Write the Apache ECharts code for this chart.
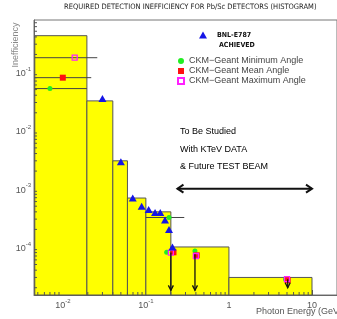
<!DOCTYPE html>
<html>
<head>
<meta charset="utf-8">
<script src="https://cdn.jsdelivr.net/npm/echarts@6/dist/echarts.min.js"></script>
<style>
html,body{margin:0;padding:0;background:#fff}
#echarts{width:337px;height:319px}
</style>
</head>
<body>
<div id="echarts"></div>
<script>
// histogram bins (GeV) and required inefficiency
var binEdges = [0.0046, 0.0195, 0.04, 0.06, 0.1, 0.2, 1, 10];
var binHeights = [0.42, 0.032, 0.003, 0.00069, 0.0004, 0.0001, 0.00003];

// BNL-E787 achieved
var bnlX = [0.030, 0.050, 0.0695, 0.089, 0.108, 0.129, 0.149, 0.170, 0.190, 0.209];
var bnlY = [0.035, 0.0029, 0.00069, 0.0005, 0.00044, 0.00039, 0.00039, 0.00029, 0.0002, 0.0001];

// CKM-Geant
var minX = [0.007, 0.19, 0.178, 0.39, 4.8];
var minY = [0.052, 0.00032, 0.000081, 0.000085, 0.000028];
var meanX = [0.01, 0.215, 0.41, 5.1];
var meanY = [0.08, 0.000081, 0.000072, 0.000027];
var maxX = [0.0139, 0.2, 0.4, 5.0];
var maxY = [0.176, 0.00008, 0.00007, 0.000028];

// horizontal ranges [from, to, level]
var rangeLines = [[0.0046, 0.0195, 0.052], [0.0046, 0.022, 0.08], [0.0046, 0.026, 0.176], [0.1, 0.29, 0.00032]];
// upper limit arrows [x, from, to]
var limitArrows = [[0.2, 0.00008, 0.000018], [0.39, 0.000075, 0.000018], [5.1, 0.000028, 0.00002]];
// double arrow [from, to, level]
var studyArrow = [0.24, 10, 0.001];

var xMin = 0.0045, xMax = 20, yMin = 0.000015, yMax = 0.78;

var myChart = echarts.init(document.getElementById('echarts'));

function pairs(xs, ys) {
  return xs.map(function (x, i) { return [x, ys[i]]; });
}

var bins = [];
for (var i = 0; i < binHeights.length; i++) {
  bins.push([binEdges[i], binEdges[i + 1], binHeights[i]]);
}

// minor ticks at 2..9 x 10^n
var xMinor = [], yMinor = [];
for (var e = -3; e <= 1; e++) {
  for (var k = 2; k <= 9; k++) {
    var v = k * Math.pow(10, e);
    if (v > xMin && v < xMax) xMinor.push([v, yMin]);
  }
}
for (var e2 = -5; e2 <= 0; e2++) {
  for (var k2 = 2; k2 <= 9; k2++) {
    var w = k2 * Math.pow(10, e2);
    if (w > yMin && w < yMax) yMinor.push([xMin, w]);
  }
}

function powLabel(v) {
  var l = Math.log(v) / Math.LN10;
  var n = Math.round(l);
  if (Math.abs(l - n) > 1e-6) return '';
  if (n === 0) return '{b|1}';
  if (n === 1) return '{b|10}';
  return '{b|10}{s|' + n + '}';
}

var labelRich = {
  b: { fontSize: 9, color: '#555', fontFamily: 'Liberation Sans', lineHeight: 12, verticalAlign: 'bottom' },
  s: { fontSize: 6, color: '#555', fontFamily: 'Liberation Sans', lineHeight: 12, verticalAlign: 'top' }
};

var black = '#111';

option = {
  backgroundColor: '#fff',
  animation: false,
  title: {
    text: 'REQUIRED DETECTION INEFFICIENCY FOR Pb/Sc DETECTORS (HISTOGRAM)',
    left: 64,
    top: 3,
    padding: 0,
    textStyle: { fontSize: 7.5, fontWeight: 'normal', color: '#222', fontFamily: 'Liberation Sans Narrow, DejaVu Sans Condensed, Liberation Sans' }
  },
  grid: { left: 34, top: 20, width: 305, height: 275, show: true, borderColor: '#777', borderWidth: 1 },
  legend: [
    {
      data: ['BNL-E787'],
      left: 199, top: 31, padding: 0,
      itemWidth: 8, itemHeight: 7,
      selectedMode: false,
      textStyle: { fontSize: 7, fontWeight: 'bold', color: '#111', lineHeight: 8, padding: [0, 0, 0, 5], fontFamily: 'Liberation Sans Narrow, DejaVu Sans Condensed, Liberation Sans' }
    },
    {
      data: ['CKM−Geant Minimum Angle', 'CKM−Geant Mean Angle', 'CKM−Geant Maximum Angle'],
      orient: 'vertical',
      left: 177, top: 56, padding: 0,
      itemWidth: 6, itemHeight: 6, itemGap: 0,
      selectedMode: false,
      textStyle: { fontSize: 9, color: '#444', lineHeight: 10, fontFamily: 'Liberation Sans' }
    }
  ],
  xAxis: {
    type: 'log',
    min: xMin, max: xMax,
    axisLine: { lineStyle: { color: '#666' } },
    axisTick: { inside: true, length: 5, lineStyle: { color: '#555' } },
    axisLabel: { margin: 3, formatter: powLabel, rich: labelRich, showMinLabel: false, showMaxLabel: false },
    splitLine: { show: false }
  },
  yAxis: {
    type: 'log',
    min: yMin, max: yMax,
    axisLine: { lineStyle: { color: '#666' } },
    axisTick: { inside: true, length: 5, lineStyle: { color: '#555' } },
    axisLabel: { margin: 3, formatter: powLabel, rich: labelRich, showMinLabel: false, showMaxLabel: false },
    splitLine: { show: false }
  },
  graphic: [
    { type: 'text', x: 16, y: 45, rotation: Math.PI / 2, style: { text: 'Inefficiency', fontSize: 9, fill: '#888', align: 'center', verticalAlign: 'middle', fontFamily: 'Liberation Sans' } },
    { type: 'text', x: 256, y: 312, style: { text: 'Photon Energy (GeV)', fontSize: 9, fill: '#555', verticalAlign: 'middle', fontFamily: 'Liberation Sans' } },
    { type: 'text', x: 219, y: 45, style: { text: 'ACHIEVED', fontSize: 7, fontWeight: 'bold', fill: '#111', verticalAlign: 'middle', fontFamily: 'Liberation Sans Narrow, DejaVu Sans Condensed, Liberation Sans' } },
    { type: 'text', x: 180, y: 132, style: { text: 'To Be Studied', fontSize: 9, fill: '#000', verticalAlign: 'middle', fontFamily: 'Liberation Sans' } },
    { type: 'text', x: 180, y: 150, style: { text: 'With KTeV DATA', fontSize: 9, fill: '#000', verticalAlign: 'middle', fontFamily: 'Liberation Sans' } },
    { type: 'text', x: 180, y: 167, style: { text: '& Future TEST BEAM', fontSize: 9, fill: '#000', verticalAlign: 'middle', fontFamily: 'Liberation Sans' } }
  ],
  series: [
    {
      name: 'histogram',
      type: 'custom',
      data: bins,
      encode: { x: [0, 1], y: 2 },
      z: 1,
      renderItem: function (params, api) {
        var p0 = api.coord([api.value(0), api.value(2)]);
        var p1 = api.coord([api.value(1), api.value(2)]);
        var bottom = params.coordSys.y + params.coordSys.height;
        return {
          type: 'rect',
          shape: { x: p0[0], y: p0[1], width: p1[0] - p0[0], height: bottom - p0[1] },
          style: { fill: '#ffff00', stroke: '#555', lineWidth: 1 }
        };
      }
    },
    {
      name: 'ranges',
      type: 'custom',
      data: rangeLines,
      encode: { x: [0, 1], y: 2 },
      z: 2,
      renderItem: function (params, api) {
        var p0 = api.coord([api.value(0), api.value(2)]);
        var p1 = api.coord([api.value(1), api.value(2)]);
        return { type: 'line', shape: { x1: p0[0], y1: p0[1], x2: p1[0], y2: p1[1] }, style: { stroke: '#444', lineWidth: 1 } };
      }
    },
    {
      name: 'limits',
      type: 'custom',
      data: limitArrows,
      encode: { x: 0, y: [1, 2] },
      z: 6,
      renderItem: function (params, api) {
        var p0 = api.coord([api.value(0), api.value(1)]);
        var p1 = api.coord([api.value(0), api.value(2)]);
        return {
          type: 'group',
          children: [
            { type: 'line', shape: { x1: p0[0], y1: p0[1], x2: p1[0], y2: p1[1] }, style: { stroke: black, lineWidth: 1.3 } },
            { type: 'polyline', shape: { points: [[p1[0] - 2.5, p1[1] - 5], [p1[0], p1[1]], [p1[0] + 2.5, p1[1] - 5]] }, style: { stroke: black, lineWidth: 1.3, fill: null } }
          ]
        };
      }
    },
    {
      name: 'study',
      type: 'custom',
      data: [studyArrow],
      encode: { x: [0, 1], y: 2 },
      z: 6,
      renderItem: function (params, api) {
        var p0 = api.coord([api.value(0), api.value(2)]);
        var p1 = api.coord([api.value(1), api.value(2)]);
        return {
          type: 'group',
          children: [
            { type: 'line', shape: { x1: p0[0], y1: p0[1], x2: p1[0], y2: p1[1] }, style: { stroke: black, lineWidth: 2 } },
            { type: 'polyline', shape: { points: [[p0[0] + 6, p0[1] - 4], [p0[0], p0[1]], [p0[0] + 6, p0[1] + 4]] }, style: { stroke: black, lineWidth: 2, fill: null } },
            { type: 'polyline', shape: { points: [[p1[0] - 6, p1[1] - 4], [p1[0], p1[1]], [p1[0] - 6, p1[1] + 4]] }, style: { stroke: black, lineWidth: 2, fill: null } }
          ]
        };
      }
    },
    {
      name: 'BNL-E787',
      type: 'scatter',
      data: pairs(bnlX, bnlY),
      symbol: 'triangle',
      symbolSize: [8, 7],
      itemStyle: { color: '#1515e6', opacity: 1 },
      z: 4
    },
    {
      name: 'CKM−Geant Minimum Angle',
      type: 'scatter',
      data: pairs(minX, minY),
      symbol: 'circle',
      symbolSize: 5,
      itemStyle: { color: '#22ee22', opacity: 1 },
      z: 3
    },
    {
      name: 'CKM−Geant Mean Angle',
      type: 'scatter',
      data: pairs(meanX, meanY),
      symbol: 'rect',
      symbolSize: 6,
      itemStyle: { color: '#ff1010', opacity: 1 },
      z: 3
    },
    {
      name: 'CKM−Geant Maximum Angle',
      type: 'scatter',
      data: pairs(maxX, maxY),
      symbol: 'rect',
      symbolSize: 5,
      itemStyle: { color: 'rgba(255,255,255,0)', borderColor: '#ff20ff', borderWidth: 1.3, opacity: 1 },
      z: 3
    },
    {
      name: 'minorX',
      type: 'custom',
      data: xMinor,
      z: 7,
      renderItem: function (params, api) {
        var p = api.coord([api.value(0), api.value(1)]);
        var bottom = params.coordSys.y + params.coordSys.height;
        return { type: 'line', shape: { x1: p[0], y1: bottom, x2: p[0], y2: bottom - 3 }, style: { stroke: '#555', lineWidth: 1 } };
      }
    },
    {
      name: 'minorY',
      type: 'custom',
      data: yMinor,
      z: 7,
      renderItem: function (params, api) {
        var p = api.coord([api.value(0), api.value(1)]);
        var left = params.coordSys.x;
        return { type: 'line', shape: { x1: left, y1: p[1], x2: left + 3, y2: p[1] }, style: { stroke: '#555', lineWidth: 1 } };
      }
    }
  ]
};

myChart.setOption(option);
</script>
</body>
</html>
